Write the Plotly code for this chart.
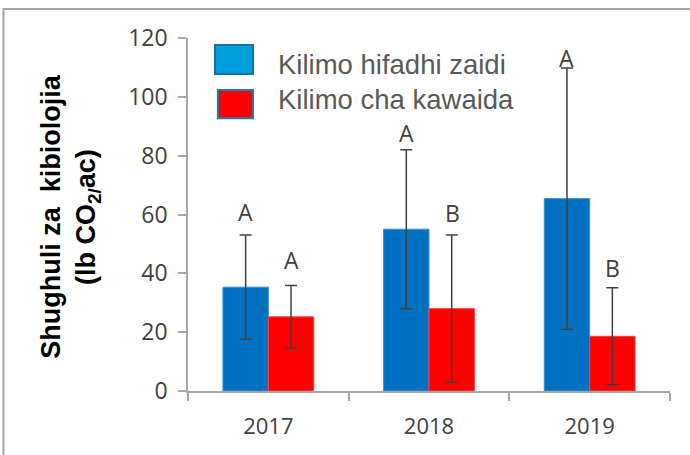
import plotly.graph_objects as go

years = ["2017", "2018", "2019"]
hifadhi = [35.3, 55.0, 65.4]
hifadhi_err = [17.7, 27.0, 44.4]
kawaida = [25.2, 28.0, 18.6]
kawaida_err = [10.7, 25.0, 16.5]
letters_hifadhi = ["A", "A", "A"]
letters_hifadhi_y = [60.9, 87.8, 113.3]
letters_kawaida = ["A", "B", "B"]
letters_kawaida_y = [44.6, 60.5, 41.8]
series_names = ["Kilimo hifadhi zaidi", "Kilimo cha kawaida"]
y_ticks = [0, 20, 40, 60, 80, 100, 120]

BLUE = "#0070C0"
RED = "#FF0000"
ERR = "#404040"

fig = go.Figure()
fig.add_trace(go.Bar(
    x=years, y=hifadhi, name=series_names[0],
    marker=dict(color=BLUE, line=dict(color="#3C8FD0", width=1)),
    error_y=dict(type="data", array=hifadhi_err, visible=True,
                 color=ERR, thickness=1.5, width=6),
    showlegend=False,
))
fig.add_trace(go.Bar(
    x=years, y=kawaida, name=series_names[1],
    marker=dict(color=RED, line=dict(color="#FF4040", width=1)),
    error_y=dict(type="data", array=kawaida_err, visible=True,
                 color=ERR, thickness=1.5, width=6),
    showlegend=False,
))

annotations = []
for i, (t, yv) in enumerate(zip(letters_hifadhi, letters_hifadhi_y)):
    annotations.append(dict(x=i, y=yv, xref="x", yref="y", text=t, showarrow=False,
                            xshift=-23, font=dict(family="Open Sans", size=23, color=ERR)))
for i, (t, yv) in enumerate(zip(letters_kawaida, letters_kawaida_y)):
    annotations.append(dict(x=i, y=yv, xref="x", yref="y", text=t, showarrow=False,
                            xshift=23, font=dict(family="Open Sans", size=23, color=ERR)))

# legend text
annotations.append(dict(x=0.183, y=0.926, xref="paper", yref="paper", text=series_names[0],
                        showarrow=False, xanchor="left", yanchor="middle",
                        font=dict(family="Liberation Sans", size=27.5, color="#595959")))
annotations.append(dict(x=0.183, y=0.827, xref="paper", yref="paper", text=series_names[1],
                        showarrow=False, xanchor="left", yanchor="middle",
                        font=dict(family="Liberation Sans", size=27.5, color="#595959")))
# y-axis title
annotations.append(dict(x=-0.243, y=0.493, xref="paper", yref="paper",
                        text="<b>Shughuli za  kibiolojia<br>(lb CO<sub>2/</sub>ac)</b>",
                        showarrow=False, textangle=-90, xanchor="center", yanchor="middle",
                        font=dict(family="Liberation Sans", size=27, color="#000000")))

shapes = [
    # outer frame (only left and top edges fall inside the picture)
    dict(type="rect", xref="paper", yref="paper", x0=-0.3828, x1=1.1, y0=-0.25, y1=1.0822,
         fillcolor="rgba(0,0,0,0)", line=dict(color="#A6A6A6", width=2), layer="below"),
    dict(type="rect", xref="paper", yref="paper", x0=0.056, x1=0.135, y0=0.898, y1=0.980,
         fillcolor="#00A0DC", line=dict(color="#1A6FA0", width=2)),
    dict(type="rect", xref="paper", yref="paper", x0=0.062, x1=0.135, y0=0.773, y1=0.853,
         fillcolor="#FF0000", line=dict(color="#1A7FB0", width=2)),
]

fig.update_layout(
    width=690, height=455,
    margin=dict(l=188, r=20, t=38, b=64),
    paper_bgcolor="white", plot_bgcolor="white",
    barmode="group", bargap=0.435, bargroupgap=0,
    annotations=annotations, shapes=shapes,
    showlegend=False,
    xaxis=dict(
        type="category", range=[-0.5, len(years) - 0.5],
        showline=True, linecolor="#A6A6A6", linewidth=1.5,
        ticks="outside", ticklen=8, tickcolor="#A6A6A6", tickwidth=1.5,
        tickson="boundaries", showgrid=False, ticklabelstandoff=15,
        tickfont=dict(family="Open Sans", size=22, color="#404040"),
    ),
    yaxis=dict(
        range=[0, 120], tickvals=y_ticks,
        showline=True, linecolor="#A6A6A6", linewidth=1.5,
        ticks="outside", ticklen=8, tickcolor="#A6A6A6", tickwidth=1.5,
        showgrid=False, zeroline=False, ticklabelstandoff=6,
        tickfont=dict(family="Open Sans", size=23, color="#404040"),
    ),
)

fig.write_html("out.html", config={"displayModeBar": False},
               post_script="document.body.style.margin='0';")
